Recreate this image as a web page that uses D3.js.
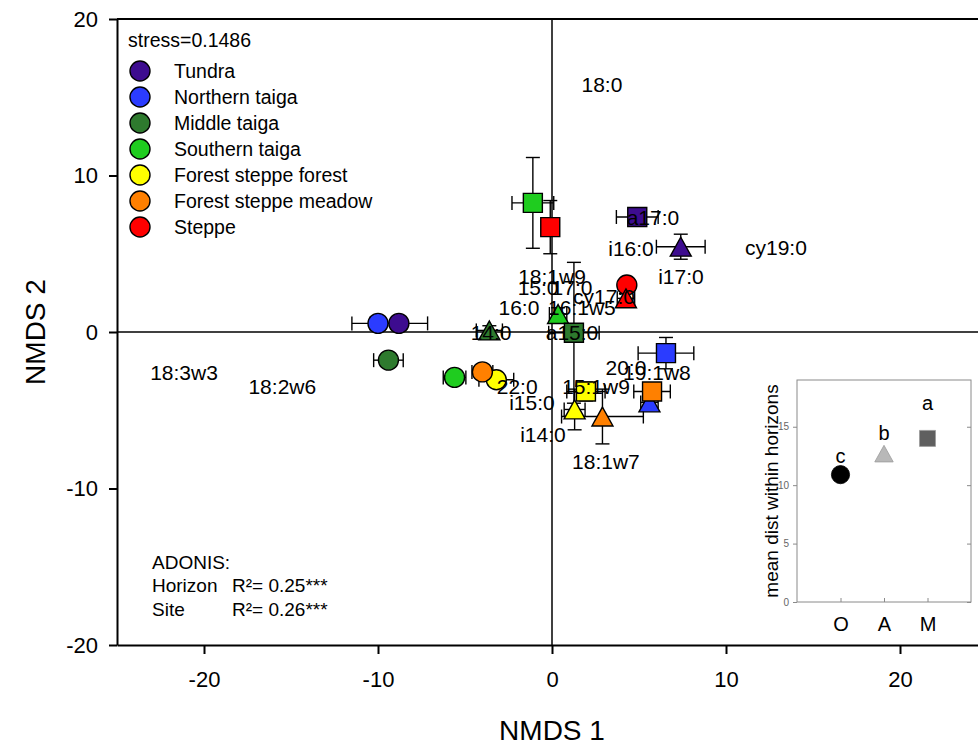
<!DOCTYPE html>
<html>
<head>
<meta charset="utf-8">
<script src="https://cdn.jsdelivr.net/npm/d3@7"></script>
<style>
  body { margin: 0; background: #fff; }
  svg { display: block; font-family: "Liberation Sans", Arial, sans-serif; }
</style>
</head>
<body>
<svg class="svgChart"></svg>
<script>
// site groups (legend order) and their fills
var regions = ['Tundra', 'Northern taiga', 'Middle taiga', 'Southern taiga', 'Forest steppe forest', 'Forest steppe meadow', 'Steppe'];
var regionColors = ['#3d0c8f', '#2b3cff', '#2e7a2e', '#1fcc1f', '#ffff00', '#ff8000', '#ff0000'];

// O horizon (circles) - one value per region
var oX = [-8.8, -10.0, -9.4, -5.6, -3.2, -4.0, 4.3];
var oY = [0.55, 0.55, -1.8, -2.9, -3.05, -2.55, 3.0];
var oErrX = [1.65, 1.5, 0.85, 0.65, 1.0, 0.6, 0.4];
var oErrY = [0.3, 0.3, 0.3, 0.3, 0.3, 0.3, 0.3];

// A horizon (triangles)
var aX = [7.4, 5.6, -3.6, 0.35, 1.3, 2.9, 4.25];
var aY = [5.45, -4.5, 0.1, 1.15, -4.95, -5.4, 2.15];
var aErrX = [1.4, 0.5, 0.75, 0.5, 0.6, 2.35, 0.5];
var aErrY = [0.8, 0.3, 0.3, 0.4, 1.3, 1.75, 0.3];

// M horizon (squares)
var mX = [4.9, 6.55, 1.26, -1.1, 1.95, 5.75, -0.1];
var mY = [7.35, -1.35, -0.05, 8.25, -3.8, -3.8, 6.7];
var mErrX = [1.2, 1.6, 1.45, 1.2, 1.1, 1.05, 0.5];
var mErrY = [0.3, 1.0, 4.5, 2.9, 0.6, 0.4, 1.7];

// PLFA labels (species scores)
var lipids = ['18:0', 'a17:0', 'i16:0', 'i17:0', 'cy19:0', '18:1w9', '15:0', '17:0', '16:0', '16:1w5', 'cy17:0',
              '14:0', 'a15:0', '20:0', '19:1w8', '22:0', '15:1w9', 'i15:0', 'i14:0', '18:1w7', '18:3w3', '18:2w6'];
var lipidX = [2.87, 5.8, 4.54, 7.41, 12.87, 0, -0.8, 1.15, -1.9, 1.72, 2.99,
              -3.5, 1.15, 4.25, 6.03, -2.0, 2.53, -1.15, -0.52, 3.1, -21.15, -15.5];
var lipidY = [15.78, 7.28, 5.3, 3.51, 5.37, 3.51, 2.81, 2.81, 1.53, 1.53, 2.24,
              -0.06, -0.06, -2.3, -2.62, -3.51, -3.51, -4.54, -6.58, -8.3, -2.62, -3.51];

var xTicks = [-20, -10, 0, 10, 20];
var yTicks = [-20, -10, 0, 10, 20];

// inset: mean distance within horizons
var horizons = ['O', 'A', 'M'];
var meanDist = [10.9, 12.7, 14.0];
var horizonFill = ['#000000', '#b8b8b8', '#5f5f5f'];
var sigLetters = ['c', 'b', 'a'];
var letterY = [12.5, 14.5, 17.0];
var insetTicks = [0, 5, 10, 15];

var width = 978;
var height = 745;

var svg = d3.select('.svgChart')
    .attr('width', width)
    .attr('height', height);

svg.append('rect')
    .attr('width', width)
    .attr('height', height)
    .attr('fill', '#fff');

var xScale = d3.scaleLinear().domain([-25, 25]).range([117, 987]);
var yScale = d3.scaleLinear().domain([-20, 20]).range([645, 19]);

// triangle centred on its bounding box, like sigmaplot draws it
var triBox = {
  draw: function(ctx, size) {
    var w = Math.sqrt(size);
    ctx.moveTo(0, -w * 0.45);
    ctx.lineTo(w * 0.5, w * 0.45);
    ctx.lineTo(-w * 0.5, w * 0.45);
    ctx.closePath();
  }
};

function makeRows(xs, ys, ex, ey){
  return xs.map(function(x, i){
    return {x: x, y: ys[i], ex: ex[i], ey: ey[i], color: regionColors[i]};
  });
}

var groups = [
  {rows: makeRows(oX, oY, oErrX, oErrY), type: d3.symbolCircle, size: 314},
  {rows: makeRows(aX, aY, aErrX, aErrY), type: triBox, size: 441},
  {rows: makeRows(mX, mY, mErrX, mErrY), type: d3.symbolSquare, size: 361}
];

/******************FRAME & ZERO LINES*********************/
var g = svg.append('g');

g.append('line')
    .attr('x1', xScale(-25)).attr('x2', xScale(25))
    .attr('y1', yScale(0)).attr('y2', yScale(0))
    .attr('stroke', '#000').attr('stroke-width', 1.5);
g.append('line')
    .attr('x1', xScale(0)).attr('x2', xScale(0))
    .attr('y1', yScale(20)).attr('y2', yScale(-20))
    .attr('stroke', '#000').attr('stroke-width', 1.5);

// top border
g.append('line')
    .attr('x1', xScale(-25)).attr('x2', xScale(25))
    .attr('y1', yScale(20)).attr('y2', yScale(20))
    .attr('stroke', '#000').attr('stroke-width', 2);

// plain hyphen minus, as in the original
var plainFmt = d => String(d);

var xAxis = d3.axisBottom(xScale)
    .tickValues(xTicks)
    .tickFormat(plainFmt)
    .tickSize(9)
    .tickSizeOuter(0)
    .tickPadding(17);
var yAxis = d3.axisLeft(yScale)
    .tickValues(yTicks)
    .tickFormat(plainFmt)
    .tickSize(8)
    .tickSizeOuter(0)
    .tickPadding(11);

var xAx = svg.append('g')
    .attr('transform', 'translate(0,' + yScale(-20) + ')')
    .call(xAxis);
var yAx = svg.append('g')
    .attr('transform', 'translate(' + xScale(-25) + ',0)')
    .call(yAxis);

[xAx, yAx].forEach(function(ax){
  ax.selectAll('path, line').attr('stroke', '#000').attr('stroke-width', 2);
  ax.selectAll('text')
      .attr('fill', '#000')
      .style('font-size', '22px')
      .style('font-family', '"Liberation Sans", Arial, sans-serif');
});

// axis titles
svg.append('text')
    .attr('x', xScale(0))
    .attr('y', 730)
    .attr('dy', '0.35em')
    .attr('text-anchor', 'middle')
    .style('font-size', '28px')
    .text('NMDS 1');

svg.append('text')
    .attr('transform', 'translate(35,' + yScale(0) + ') rotate(-90)')
    .attr('dy', '0.35em')
    .attr('text-anchor', 'middle')
    .style('font-size', '28px')
    .text('NMDS 2');

/******************ERROR BARS*********************/
var cap = 7;
var errG = g.append('g')
    .attr('stroke', '#000')
    .attr('stroke-width', 1.4);

groups.forEach(function(grp){
  var bars = errG.selectAll(null)
    .data(grp.rows)
    .enter()
    .append('g');
  // horizontal bar + caps
  bars.append('line')
      .attr('x1', d => xScale(d.x - d.ex)).attr('x2', d => xScale(d.x + d.ex))
      .attr('y1', d => yScale(d.y)).attr('y2', d => yScale(d.y));
  bars.append('line')
      .attr('x1', d => xScale(d.x - d.ex)).attr('x2', d => xScale(d.x - d.ex))
      .attr('y1', d => yScale(d.y) - cap).attr('y2', d => yScale(d.y) + cap);
  bars.append('line')
      .attr('x1', d => xScale(d.x + d.ex)).attr('x2', d => xScale(d.x + d.ex))
      .attr('y1', d => yScale(d.y) - cap).attr('y2', d => yScale(d.y) + cap);
  // vertical bar + caps
  bars.append('line')
      .attr('x1', d => xScale(d.x)).attr('x2', d => xScale(d.x))
      .attr('y1', d => yScale(d.y - d.ey)).attr('y2', d => yScale(d.y + d.ey));
  bars.append('line')
      .attr('x1', d => xScale(d.x) - cap).attr('x2', d => xScale(d.x) + cap)
      .attr('y1', d => yScale(d.y - d.ey)).attr('y2', d => yScale(d.y - d.ey));
  bars.append('line')
      .attr('x1', d => xScale(d.x) - cap).attr('x2', d => xScale(d.x) + cap)
      .attr('y1', d => yScale(d.y + d.ey)).attr('y2', d => yScale(d.y + d.ey));
});

/******************MARKERS*********************/
groups.forEach(function(grp){
  g.append('g')
    .selectAll('path')
    .data(grp.rows)
    .enter()
    .append('path')
      .attr('transform', d => 'translate(' + xScale(d.x) + ',' + yScale(d.y) + ')')
      .attr('d', d3.symbol().type(grp.type).size(grp.size))
      .attr('fill', d => d.color)
      .attr('stroke', '#000')
      .attr('stroke-width', 1.4);
});

/******************LIPID LABELS*********************/
g.append('g')
  .selectAll('text')
  .data(lipids)
  .enter()
  .append('text')
    .attr('x', (d, i) => xScale(lipidX[i]))
    .attr('y', (d, i) => yScale(lipidY[i]))
    .attr('dy', '0.35em')
    .attr('text-anchor', 'middle')
    .style('font-size', '21px')
    .attr('fill', '#000')
    .text(d => d);

/******************LEGEND*********************/
svg.append('text')
    .attr('x', 128)
    .attr('y', 40)
    .attr('dy', '0.35em')
    .style('font-size', '19.5px')
    .text('stress=0.1486');

var legend = svg.append('g')
  .selectAll('g')
  .data(regions)
  .enter()
  .append('g')
    .attr('transform', (d, i) => 'translate(140,' + (71 + i * 26) + ')');

legend.append('circle')
    .attr('r', 10)
    .attr('fill', (d, i) => regionColors[i])
    .attr('stroke', '#000')
    .attr('stroke-width', 1.4);

legend.append('text')
    .attr('x', 34)
    .attr('dy', '0.35em')
    .style('font-size', '19.5px')
    .text(d => d);

// adonis results
var adonis = svg.append('g')
    .style('font-size', '19px');
adonis.append('text').attr('x', 152).attr('y', 562).attr('dy', '0.35em').text('ADONIS:');
adonis.append('text').attr('x', 152).attr('y', 585).attr('dy', '0.35em').text('Horizon');
adonis.append('text').attr('x', 232).attr('y', 585).attr('dy', '0.35em').text('R²= 0.25***');
adonis.append('text').attr('x', 152).attr('y', 609).attr('dy', '0.35em').text('Site');
adonis.append('text').attr('x', 232).attr('y', 609).attr('dy', '0.35em').text('R²= 0.26***');

/******************INSET*********************/
var insetX = d3.scalePoint().domain(horizons).range([797, 971]).padding(1);
var insetY = d3.scaleLinear().domain([0, 19]).range([602, 380]);

var inset = svg.append('g');

inset.append('rect')
    .attr('x', 797)
    .attr('y', insetY(19))
    .attr('width', 174)
    .attr('height', insetY(0) - insetY(19))
    .attr('fill', '#fff')
    .attr('stroke', '#8a8a8a')
    .attr('stroke-width', 1);

var inYAxis = inset.append('g')
    .attr('transform', 'translate(797,0)')
    .call(d3.axisLeft(insetY).tickValues(insetTicks).tickSize(4).tickSizeOuter(0).tickPadding(4));
inYAxis.select('.domain').remove();
inYAxis.selectAll('line').attr('stroke', '#8a8a8a');
inYAxis.selectAll('text')
    .attr('fill', '#666')
    .style('font-size', '10px')
    .style('font-family', '"Liberation Sans", Arial, sans-serif');

var inYRight = inset.append('g')
    .attr('transform', 'translate(971,0)')
    .call(d3.axisRight(insetY).tickValues(insetTicks).tickSize(-4).tickSizeOuter(0).tickFormat(''));
inYRight.select('.domain').remove();
inYRight.selectAll('line').attr('stroke', '#8a8a8a');

var inXAxis = inset.append('g')
    .attr('transform', 'translate(0,' + insetY(0) + ')')
    .call(d3.axisBottom(insetX).tickSize(-4).tickSizeOuter(0).tickPadding(15));
inXAxis.select('.domain').remove();
inXAxis.selectAll('line').attr('stroke', '#8a8a8a');
inXAxis.selectAll('text')
    .attr('fill', '#000')
    .style('font-size', '20px')
    .style('font-family', '"Liberation Sans", Arial, sans-serif');

inset.append('text')
    .attr('transform', 'translate(771,' + insetY(9.5) + ') rotate(-90)')
    .attr('dy', '0.35em')
    .attr('text-anchor', 'middle')
    .style('font-size', '19px')
    .text('mean dist within horizons');

var insetShapes = [d3.symbolCircle, triBox, d3.symbolSquare];
var insetSizes = [260, 340, 256];

inset.append('g')
  .selectAll('path')
  .data(horizons)
  .enter()
  .append('path')
    .attr('transform', (d, i) => 'translate(' + insetX(d) + ',' + insetY(meanDist[i]) + ')')
    .attr('d', (d, i) => d3.symbol().type(insetShapes[i]).size(insetSizes[i])())
    .attr('fill', (d, i) => horizonFill[i])
    .attr('stroke', (d, i) => i === 0 ? '#000' : '#9a9a9a')
    .attr('stroke-width', 0.8);

inset.append('g')
  .selectAll('text')
  .data(sigLetters)
  .enter()
  .append('text')
    .attr('x', (d, i) => insetX(horizons[i]))
    .attr('y', (d, i) => insetY(letterY[i]))
    .attr('dy', '0.35em')
    .attr('text-anchor', 'middle')
    .style('font-size', '20px')
    .text(d => d);
</script>
</body>
</html>
